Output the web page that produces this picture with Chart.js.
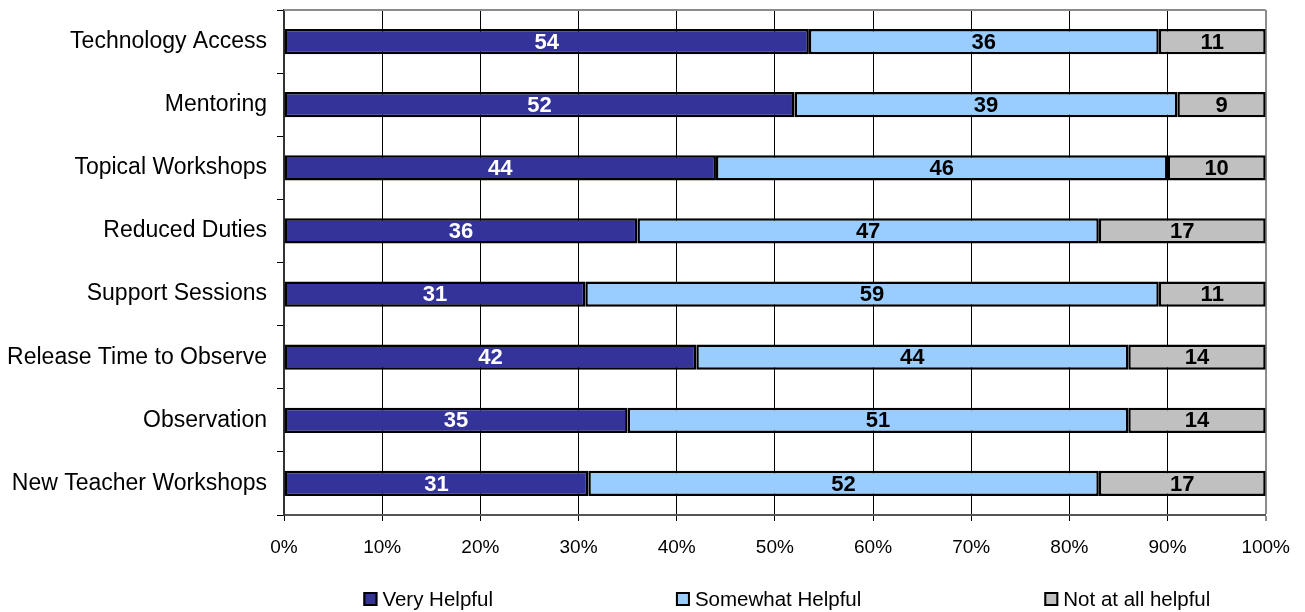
<!DOCTYPE html>
<html>
<head>
<meta charset="utf-8">
<title>Helpfulness of New Teacher Supports</title>
<script src="https://cdn.jsdelivr.net/npm/chart.js@4/dist/chart.umd.min.js"></script>
<style>
  html, body { margin: 0; padding: 0; background: #ffffff; }
  #wrap { width: 1305px; height: 612px; }
</style>
</head>
<body>
<div id="wrap"><canvas id="chart" width="1305" height="612"></canvas></div>
<script>
// Support types, listed top to bottom
const categories = [
  'Technology Access',
  'Mentoring',
  'Topical Workshops',
  'Reduced Duties',
  'Support Sessions',
  'Release Time to Observe',
  'Observation',
  'New Teacher Workshops'
];

// Reported percentages per response
const veryHelpful     = [54, 52, 44, 36, 31, 42, 35, 31];
const somewhatHelpful = [36, 39, 46, 47, 59, 44, 51, 52];
const notHelpful      = [11,  9, 10, 17, 11, 14, 14, 17];

const seriesNames = ['Very Helpful', 'Somewhat Helpful', 'Not at all helpful'];
const xTickValues = [0, 10, 20, 30, 40, 50, 60, 70, 80, 90, 100];

const FONT = "'Liberation Sans', Arial, Helvetica, sans-serif";

// Each bar fills 100%: segments are the reported values scaled by the row total
const rowTotals = categories.map((_, i) => veryHelpful[i] + somewhatHelpful[i] + notHelpful[i]);
const toShare = arr => arr.map((v, i) => v / rowTotals[i] * 100);

const seriesRaw = [veryHelpful, somewhatHelpful, notHelpful];
const seriesFill = ['#333399', '#99CCFF', '#C0C0C0'];
const labelColors = ['#ffffff', '#000000', '#000000'];

const datasets = seriesRaw.map((raw, k) => ({
  label: seriesNames[k],
  data: toShare(raw),
  rawValues: raw,
  backgroundColor: seriesFill[k],
  borderColor: '#000000',
  borderWidth: 2.5,
  borderSkipped: false,
  barPercentage: 0.4,
  categoryPercentage: 1.0
}));

// Draws the gray frame edge along the top of the plot
const frameTop = {
  id: 'frameTop',
  beforeDatasetsDraw(chart) {
    const { ctx, chartArea: a } = chart;
    ctx.save();
    ctx.strokeStyle = '#8c8c8c';
    ctx.lineWidth = 2;
    ctx.beginPath();
    ctx.moveTo(a.left, a.top);
    ctx.lineTo(a.right, a.top);
    ctx.stroke();
    ctx.restore();
  }
};

// Writes the reported value in the middle of every segment
const segmentLabels = {
  id: 'segmentLabels',
  afterDatasetsDraw(chart) {
    const { ctx } = chart;
    ctx.save();
    ctx.font = 'bold 22px ' + FONT;
    ctx.textAlign = 'center';
    ctx.textBaseline = 'middle';
    chart.data.datasets.forEach((ds, k) => {
      const meta = chart.getDatasetMeta(k);
      meta.data.forEach((bar, i) => {
        const p = bar.getProps(['x', 'y', 'base'], true);
        const cx = (p.x + p.base) / 2;
        ctx.fillStyle = labelColors[k];
        ctx.fillText(String(ds.rawValues[i]), cx, p.y + 1);
      });
    });
    ctx.restore();
  }
};

// Legend row under the axis, items spread widely
const wideLegend = {
  id: 'wideLegend',
  afterDraw(chart) {
    const { ctx, chartArea: a } = chart;
    const box = 14, textGap = 5, itemGap = 183;
    ctx.save();
    ctx.font = '20.5px ' + FONT;
    ctx.textBaseline = 'middle';
    ctx.textAlign = 'left';
    const widths = chart.data.datasets.map(ds => box + textGap + ctx.measureText(ds.label).width);
    const total = widths.reduce((s, w) => s + w, 0) + itemGap * (widths.length - 1);
    const centre = (a.left + a.right) / 2 + 12;
    let x = centre - total / 2;
    const y = 599;
    chart.data.datasets.forEach((ds, k) => {
      ctx.fillStyle = ds.backgroundColor;
      ctx.fillRect(x, y - box / 2, box, box);
      ctx.strokeStyle = '#000000';
      ctx.lineWidth = 2;
      ctx.strokeRect(x + 1, y - box / 2 + 1, box - 2, box - 2);
      ctx.fillStyle = '#000000';
      ctx.fillText(ds.label, x + box + textGap, y + 1);
      x += widths[k] + itemGap;
    });
    ctx.restore();
  }
};

new Chart(document.getElementById('chart'), {
  type: 'bar',
  data: { labels: categories, datasets },
  plugins: [frameTop, segmentLabels, wideLegend],
  options: {
    indexAxis: 'y',
    responsive: false,
    animation: false,
    devicePixelRatio: 1,
    layout: { padding: { top: 10, right: 39, left: 0, bottom: 0 } },
    plugins: {
      legend: { display: false },
      tooltip: { enabled: false }
    },
    scales: {
      x: {
        stacked: true,
        min: 0,
        max: 100,
        afterBuildTicks(scale) {
          scale.ticks = xTickValues.map(v => ({ value: v }));
        },
        afterFit(scale) { scale.height = 97; },
        ticks: {
          color: '#000000',
          font: { family: FONT, size: 19 },
          padding: 15,
          maxRotation: 0,
          callback: v => v + '%'
        },
        grid: {
          color: ctx => (ctx.tick && ctx.tick.value === 100) ? '#8c8c8c' : '#000000',
          lineWidth: ctx => (ctx.tick && ctx.tick.value === 100) ? 2 : 1,
          tickLength: 6,
          drawTicks: true
        },
        border: { display: true, color: '#555555', width: 2 }
      },
      y: {
        stacked: true,
        afterFit(scale) {
          scale.width = 284;
          scale.paddingTop = 0;
          scale.paddingBottom = 0;
        },
        ticks: {
          color: '#000000',
          font: { family: FONT, size: 23 },
          padding: 10
        },
        grid: {
          drawOnChartArea: false,
          drawTicks: true,
          tickLength: 7,
          color: '#000000',
          lineWidth: 1
        },
        border: { display: true, color: '#333333', width: 2 }
      }
    }
  }
});
</script>
</body>
</html>
